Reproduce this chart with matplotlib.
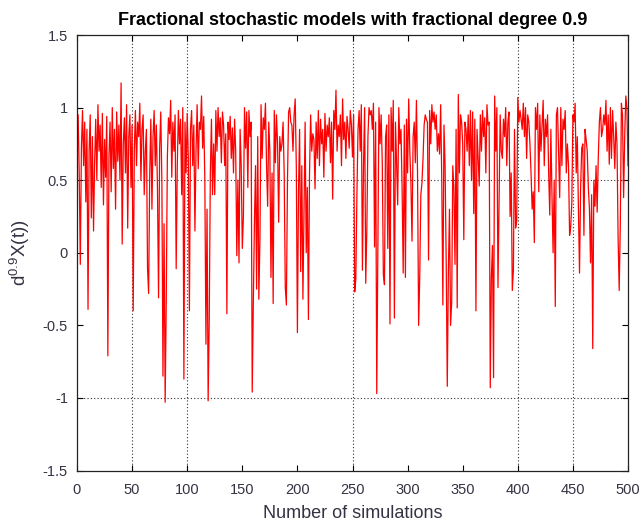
import numpy as np
import matplotlib
matplotlib.use("Agg")
import matplotlib.pyplot as plt

plt.rcParams['font.family'] = ['Liberation Sans', 'DejaVu Sans']

# values, one per simulation (1..500)
vals = [
0.95, 0.55, -0.08, 0.72, 0.98, 0.6, 0.9, 0.35, 0.85, -0.39, 0.7, 0.95, 0.24, 0.8, 0.15, 0.62, 0.92, 0.5, 1.02, 0.7,
0.88, 0.45, 0.96, 0.33, 0.78, 0.52, 0.94, -0.71, 0.66, 0.9, 0.42, 1.0, 0.58, 0.85, 0.3, 0.97, 0.63, 0.88, 0.5, 1.17,
0.06, 0.75, 0.93, 0.55, 1.02, 0.17, 0.8, 0.95, 0.45, 0.88, -0.40, 0.7, 0.98, 0.6, 0.9, 0.8, 1.03, 0.5, 0.85, 0.95,
0.4, 0.7, 0.85, -0.11, -0.28, 0.55, 0.92, 0.3, 0.8, 0.98, 0.6, 0.88, 0.45, -0.31, 0.72, 0.97, 0.5, -0.85, 0.2, -1.03,
-0.32, 0.66, 0.93, 0.82, 1.05, 0.52, 0.9, 0.7, 0.95, -0.11, 0.6, 0.98, 0.75, 0.92, 0.4, 1.0, -0.87, 0.9, 0.55, 0.96,
0.65, -0.40, 0.85, 0.98, 0.6, 0.88, 0.15, 0.7, 1.02, 0.58, 0.9, 0.85, 1.08, 0.72, 0.94, 0.5, -0.63, 0.3, -1.02, -0.46,
0.55, 0.92, 0.4, 0.75, 0.40, 0.98, 0.7, 1.0, 0.8, 0.93, 0.62, 0.97, 0.88, 0.6, 0.82, -0.42, 0.9, 0.78, 0.94, 0.65,
0.86, 0.55, 0.92, 0.7, -0.02, 0.5, -0.07, 0.85, 0.6, 0.03, 0.25, 1.0, 0.72, 0.97, 0.45, 0.98, 0.8, 0.9, -0.96, -0.34,
0.2, 0.6, -0.25, 0.8, -0.32, 0.09, 1.02, 0.65, 0.93, 0.85, 1.03, 0.6, 0.32, 0.9, 0.7, -0.17, 0.55, -0.35, 0.98, 0.62,
0.95, 0.75, 0.21, 0.8, 0.7, 0.75, 0.9, 0.55, -0.24, -0.36, 0.5, 0.97, 1.0, 0.9, 0.88, 0.7, 0.95, 1.06, 0.6, -0.55,
0.42, 0.85, -0.13, 0.6, -0.32, 0.31, 0.9, 0.0, 0.45, -0.46, 0.55, 0.95, 0.7, 0.82, 0.78, 0.44, 0.9, 0.65, 0.98, 0.6,
0.92, 0.75, 0.85, 0.52, 0.96, 0.7, 0.88, 0.8, 0.93, 0.62, 0.9, 0.37, 0.98, 0.85, 1.12, 0.7, 0.88, 0.8, 0.95, 0.6,
1.06, 0.78, 0.9, 0.65, 0.94, 0.85, 0.72, 0.98, 0.88, 0.66, 0.95, -0.27, -0.18, 0.4, 0.85, 0.98, 0.7, 1.02, -0.12, 0.6,
1.0, -0.21, 0.16, 0.8, 1.0, 0.95, 0.98, 0.85, 1.03, 0.04, 0.9, -0.97, -0.03, 1.0, 0.75, 0.95, 0.62, -0.15, -0.22, 0.8,
0.88, 0.03, 0.95, -0.49, 1.0, 0.7, 1.05, -0.45, 0.9, 0.6, 0.33, 1.0, 0.75, 0.85, 0.45, -0.14, 0.88, -0.17, 0.92, 0.55,
1.06, 0.7, 0.48, 0.08, 0.8, 0.9, 0.62, 1.05, 0.55, -0.50, -0.17, 0.4, 0.48, 0.65, 0.88, 0.95, 0.92, 0.9, -0.05, 0.98,
0.75, 1.02, 0.9, 0.97, 0.85, 0.95, 0.7, 0.82, 0.68, 1.02, 0.5, -0.36, 0.88, 0.6, -0.05, -0.92, -0.13, 0.3, -0.5, -0.34,
0.6, 0.45, -0.08, 0.85, -0.38, 1.09, 0.55, 0.95, 0.9, 0.75, 0.09, 0.9, 0.85, 0.7, 0.95, 0.6, 0.98, 0.5, 0.97, 0.27,
0.92, -0.40, 0.85, 0.65, 0.46, 0.95, 0.7, 0.98, 0.8, 0.93, 0.55, 1.02, 0.88, 0.9, -0.93, -0.17, 0.05, -0.86, 1.08, 0.7,
1.0, -0.24, 0.33, 0.95, 0.7, 0.65, 0.92, 0.8, 1.0, 0.6, 0.9, 0.97, 0.25, 0.55, -0.26, -0.12, 0.85, 0.17, 0.22, 1.07,
0.9, 0.98, 0.92, 0.85, 1.03, 0.8, 1.0, 0.65, 0.95, 0.9, 0.75, 0.55, 0.3, 0.42, 0.07, 1.0, 0.85, 1.03, 0.42, 0.95,
0.7, 0.88, 1.05, 0.6, 0.92, 0.8, 0.95, 0.55, 0.26, 0.85, 0.4, 0.0, 0.5, -0.37, 0.95, 1.0, 0.7, 0.38, 1.0, 0.6,
0.92, 0.85, 0.98, 0.55, 0.75, 0.6, 0.12, 0.18, 0.34, 0.95, 0.9, 1.03, 0.55, 0.8, 0.3, -0.14, 0.45, 0.72, 0.75, 0.12,
0.85, 0.78, 0.7, 0.45, 0.3, -0.07, 0.4, -0.66, 0.5, 0.32, 0.6, 0.28, 0.65, 0.9, 1.0, 0.8, 0.85, 0.95, 0.88, 1.05,
0.7, 0.95, 0.61, 1.0, 0.65, 0.98, 0.8, 0.58, 0.9, 0.75, 0.11, -0.26, 0.19, 1.03, 0.95, 0.38, 0.8, 1.08, 1.0, 0.6,
]
sims = np.arange(1, len(vals) + 1)

xticks = [0, 50, 100, 150, 200, 250, 300, 350, 400, 450, 500]
yticks = [-1.5, -1, -0.5, 0, 0.5, 1, 1.5]
ytick_labels = ['-1.5', '-1', '-0.5', '0', '0.5', '1', '1.5']
# only some grid lines survive in the picture
xgrid = [50, 100, 250, 400, 450]
ygrid = [0.5, -1]

fig = plt.figure(figsize=(6.39, 5.25), dpi=100)
ax = fig.add_axes([0.1205, 0.1038, 0.8623, 0.8295])

for g in xgrid:
    ax.axvline(g, color='#333333', lw=0.8, ls=(0, (1, 2)), zorder=1)
for g in ygrid:
    ax.axhline(g, color='#333333', lw=0.8, ls=(0, (1, 2)), zorder=1)

ax.plot(sims, vals, color='red', lw=0.9, zorder=2)

ax.set_xlim(0, 500)
ax.set_ylim(-1.5, 1.5)
ax.set_xticks(xticks)
ax.set_yticks(yticks)
ax.set_yticklabels(ytick_labels)
ax.tick_params(direction='in', top=True, right=True, length=4, width=0.8,
               labelsize=10.5, labelcolor='#333344')
ax.tick_params(axis='x', pad=9)
ax.tick_params(axis='y', pad=6.5)
for s in ax.spines.values():
    s.set_linewidth(0.9)
    s.set_color('#222222')

ax.set_title('Fractional stochastic models with fractional degree 0.9',
             fontsize=13, fontweight='bold', pad=7)
ax.set_xlabel('Number of simulations', fontsize=13, color='#333344', labelpad=6)
ax.set_ylabel(r'$\mathregular{d^{0.9}X(t))}$', fontsize=13.5, color='#333344', labelpad=8)

fig.savefig('out.png', dpi=100)
